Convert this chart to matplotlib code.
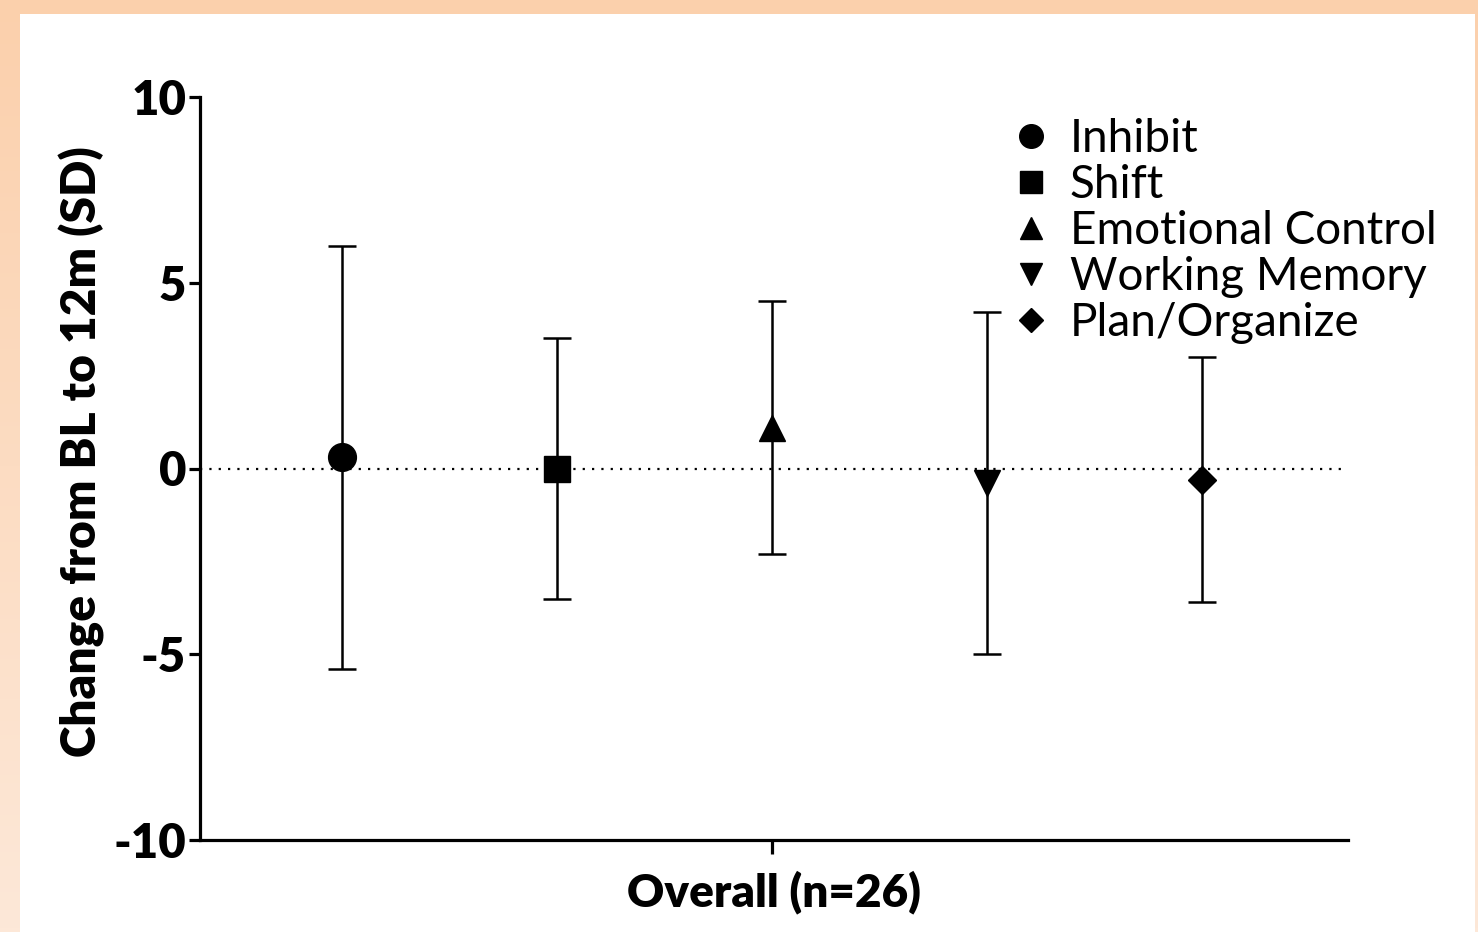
import matplotlib
matplotlib.use("Agg")
import matplotlib.pyplot as plt
import numpy as np
from matplotlib.patches import Rectangle

plt.rcParams['font.family'] = ['Lato', 'DejaVu Sans']

# Dados
escalas = ["Inhibit", "Shift", "Emotional Control", "Working Memory", "Plan/Organize"]
medias = [0.3, 0.0, 1.1, -0.4, -0.3]
desvios = [5.7, 3.5, 3.4, 4.6, 3.3]
marcadores = ["o", "s", "^", "v", "D"]
tamanhos = [20, 19, 19, 19, 14]
posicoes = [-2, -1, 0, 1, 2]
rotulo_x = "Overall (n=26)"
rotulo_y = "Change from BL to 12m (SD)"
yticks = [-10, -5, 0, 5, 10]

fig = plt.figure(figsize=(14.78, 9.32), dpi=100)

# fundo em degrade com painel branco
fundo = fig.add_axes([0, 0, 1, 1], zorder=-5)
topo = np.array([251, 208, 172]) / 255
base = np.array([253, 232, 216]) / 255
t = np.linspace(0, 1, 256)[:, None]
grad = topo[None, :] * (1 - t) + base[None, :] * t
fundo.imshow(grad[:, None, :], aspect="auto", extent=[0, 1, 0, 1])
fundo.add_patch(Rectangle((20 / 1478, 0), (1475 - 20) / 1478, (932 - 14) / 932,
                          facecolor="white", edgecolor="none"))
fundo.set_xlim(0, 1)
fundo.set_ylim(0, 1)
fundo.axis("off")

ax = fig.add_axes([200 / 1478, (932 - 840) / 932, (1348 - 200) / 1478, (840 - 97) / 932])
ax.patch.set_alpha(0)

ax.axhline(0, color="black", lw=1.6, linestyle=(0, (1, 3.2)), zorder=1)

for i in range(len(escalas)):
    ax.errorbar(posicoes[i], medias[i], yerr=desvios[i], fmt=marcadores[i],
                color="black", markersize=tamanhos[i], elinewidth=1.8,
                capsize=10, capthick=1.8, label=escalas[i], zorder=3)

ax.set_xlim(-2.66, 2.68)
ax.set_ylim(-10, 10)
ax.set_yticks(yticks)
ax.set_yticklabels([str(v) for v in yticks], fontsize=34, fontweight="heavy")
ax.set_xticks([0])
ax.set_xticklabels([""])
ax.set_xlabel(rotulo_x, fontsize=33, fontweight="heavy", labelpad=10)
ax.set_ylabel(rotulo_y, fontsize=34.5, fontweight="heavy", labelpad=6)
ax.yaxis.label.set_y(0.523)

for lado in ["top", "right"]:
    ax.spines[lado].set_visible(False)
for lado in ["left", "bottom"]:
    ax.spines[lado].set_linewidth(2.3)
ax.tick_params(axis="both", width=2.3, length=8, pad=2)
ax.tick_params(axis="x", length=10)

# legenda so com os marcadores
handles, labels = ax.get_legend_handles_labels()
handles = [h[0] for h in handles]
leg = fig.legend(handles, labels, loc="upper left", bbox_to_anchor=(985 / 1478, 1 - 95 / 932),
                 frameon=False, fontsize=33, handlelength=1.0, handletextpad=0.35,
                 labelspacing=0.09, borderpad=0, markerscale=0.85)

fig.savefig("out.png", dpi=100)
